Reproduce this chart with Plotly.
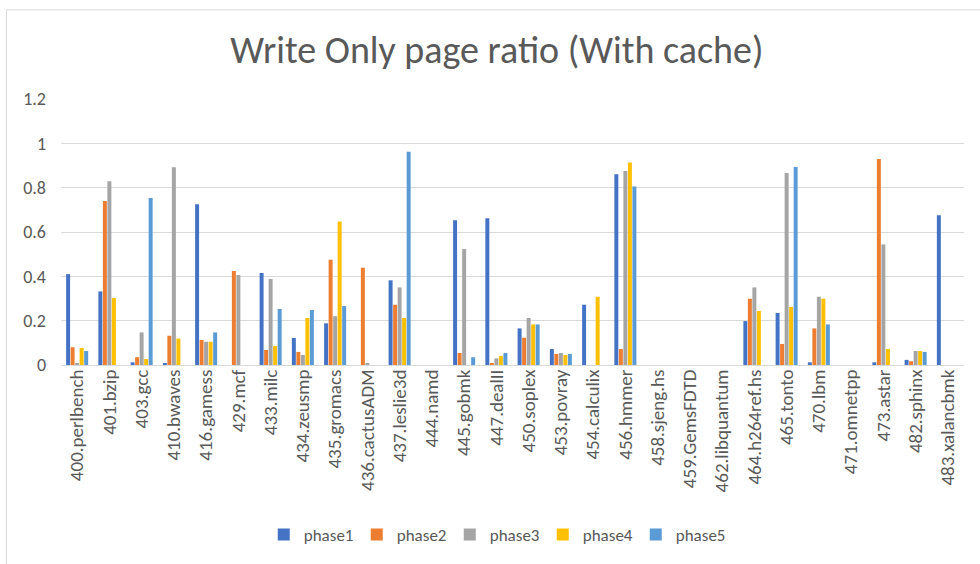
import plotly.graph_objects as go

categories = ["400.perlbench", "401.bzip", "403.gcc", "410.bwaves", "416.gamess", "429.mcf",
              "433.milc", "434.zeusmp", "435.gromacs", "436.cactusADM", "437.leslie3d", "444.namd",
              "445.gobmk", "447.dealII", "450.soplex", "453.povray", "454.calculix", "456.hmmer",
              "458.sjeng.hs", "459.GemsFDTD", "462.libquantum", "464.h264ref.hs", "465.tonto",
              "470.lbm", "471.omnetpp", "473.astar", "482.sphinx", "483.xalancbmk"]

phase1 = [0.41, 0.332, 0.012, 0.008, 0.725, 0, 0.415, 0.122, 0.188, 0, 0.382, 0,
          0.653, 0.662, 0.165, 0.072, 0.272, 0.86, 0, 0, 0, 0.198, 0.235, 0.012, 0, 0.012, 0.023, 0.675]
phase2 = [0.08, 0.74, 0.035, 0.132, 0.113, 0.424, 0.068, 0.059, 0.475, 0.439, 0.272, 0,
          0.054, 0.008, 0.123, 0.05, 0, 0.072, 0, 0, 0, 0.299, 0.095, 0.165, 0, 0.929, 0.017, 0]
phase3 = [0.008, 0.829, 0.147, 0.892, 0.105, 0.406, 0.388, 0.045, 0.22, 0.008, 0.35, 0,
          0.523, 0.03, 0.212, 0.054, 0, 0.875, 0, 0, 0, 0.35, 0.866, 0.308, 0, 0.544, 0.063, 0]
phase4 = [0.077, 0.302, 0.027, 0.119, 0.105, 0, 0.086, 0.212, 0.647, 0, 0.212, 0,
          0, 0.041, 0.183, 0.045, 0.308, 0.913, 0, 0, 0, 0.244, 0.262, 0.299, 0, 0.072, 0.063, 0]
phase5 = [0.063, 0, 0.753, 0, 0.147, 0, 0.253, 0.248, 0.266, 0, 0.962, 0,
          0.035, 0.054, 0.183, 0.05, 0, 0.805, 0, 0, 0, 0, 0.893, 0.183, 0, 0, 0.059, 0]

series_names = ["phase1", "phase2", "phase3", "phase4", "phase5"]
colors = ["#4472C4", "#ED7D31", "#A5A5A5", "#FFC000", "#5B9BD5"]
yticks = [0, 0.2, 0.4, 0.6, 0.8, 1, 1.2]
ytick_labels = ["0", "0.2", "0.4", "0.6", "0.8", "1", "1.2"]

FONT = "Carlito, Calibri, Lato, sans-serif"
fig = go.Figure()
for name, vals, col in zip(series_names, [phase1, phase2, phase3, phase4, phase5], colors):
    fig.add_trace(go.Bar(x=categories, y=vals, name=name, marker=dict(color=col, line=dict(width=0))))

W, H = 980, 564
L, R, T, B = 61, 16, 99, 198
pw, ph = W - L - R, H - T - B

fig.update_layout(
    width=W, height=H,
    margin=dict(l=L, r=R, t=T, b=B),
    paper_bgcolor="white", plot_bgcolor="white",
    font=dict(family=FONT, color="#595959", size=17),
    title=dict(text="Write Only page ratio (With cache)", x=0.507, xanchor="center",
               y=1 - 50 / H, yanchor="middle", font=dict(size=38, color="#595959", family=FONT)),
    barmode="group", bargap=0.3, bargroupgap=0.12,
    legend=dict(orientation="h", x=0.482, xanchor="center", y=(366 - 535) / ph, yanchor="middle",
                font=dict(size=17, color="#595959"), traceorder="normal",
                entrywidth=48, entrywidthmode="pixels"),
    xaxis=dict(tickangle=-90, showgrid=False, showline=True, linecolor="#d9d9d9",
               ticks="", tickfont=dict(size=19, color="#595959"), ticklabelstandoff=-4),
    yaxis=dict(range=[0, 1.2], tickvals=yticks, ticktext=ytick_labels,
               showgrid=True, gridcolor="#d9d9d9", gridwidth=1, zeroline=False, showline=False,
               ticks="", ticklabelstandoff=14, tickfont=dict(size=18, color="#595959")),
    shapes=[dict(type="rect", xref="paper", yref="paper",
                 x0=(6.5 - L) / pw, x1=(W + 20 - L) / pw,
                 y0=-(B + 20) / ph, y1=(366 - 9.5) / ph,
                 line=dict(color="#d9d9d9", width=1), fillcolor="rgba(0,0,0,0)", layer="below")],
)

fig.write_html("out.html")
